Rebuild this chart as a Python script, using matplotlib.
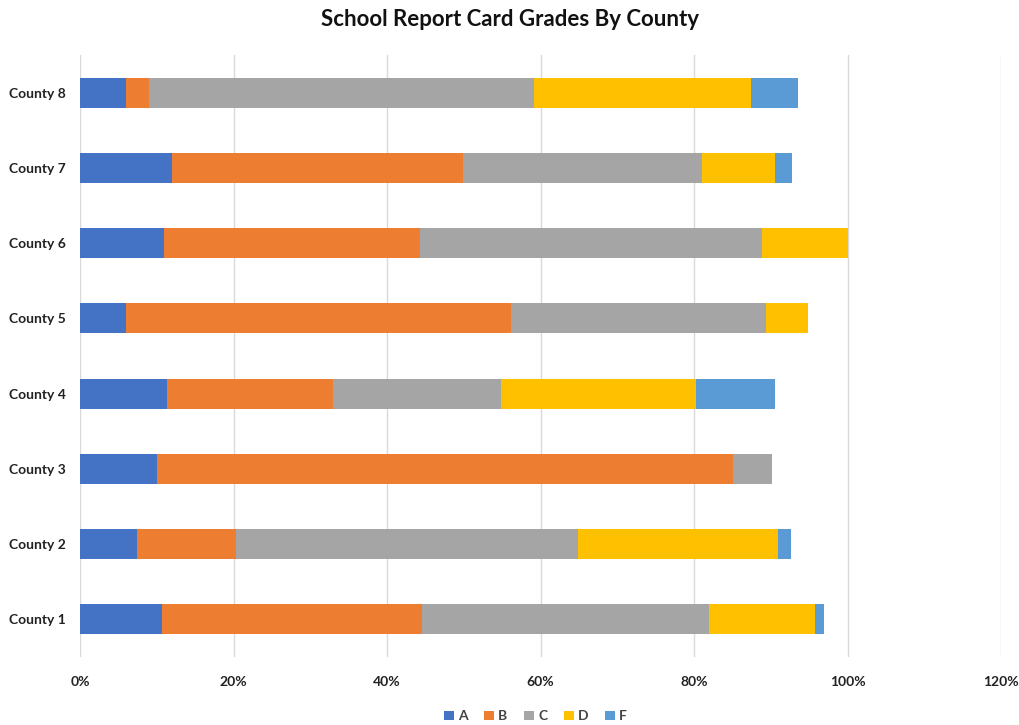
import matplotlib
matplotlib.use("Agg")
import matplotlib.pyplot as plt
import numpy as np

counties = ["County 1", "County 2", "County 3", "County 4", "County 5", "County 6", "County 7", "County 8"]
grades = ["A", "B", "C", "D", "F"]
A = [10.7, 7.4, 10.0, 11.3, 6.0, 11.0, 12.0, 6.0]
B = [33.8, 12.9, 75.1, 21.7, 50.1, 33.3, 37.9, 3.0]
C = [37.4, 44.6, 5.0, 21.9, 33.3, 44.5, 31.1, 50.2]
D = [13.9, 26.0, 0.0, 25.4, 5.5, 11.2, 9.5, 28.2]
F = [1.1, 1.8, 0.0, 10.2, 0.0, 0.0, 2.3, 6.2]
colors = ["#4472C4", "#ED7D31", "#A5A5A5", "#FFC000", "#5B9BD5"]
xticks = [0, 20, 40, 60, 80, 100, 120]

plt.rcParams['font.family'] = ['Lato', 'DejaVu Sans']

fig = plt.figure(figsize=(10.2, 7.25), dpi=100)
ax = fig.add_axes([80/1020, 1-657/725, 921/1020, (657-55)/725])

y = np.arange(len(counties))
left = np.zeros(len(counties))
for name, vals, col in zip(grades, [A, B, C, D, F], colors):
    v = np.array(vals)
    ax.barh(y, v, left=left, height=0.4, color=col, label=name, zorder=3)
    left += v

ax.set_xlim(0, 120)
ax.set_ylim(-0.5, len(counties) - 0.5)
ax.set_xticks(xticks)
ax.set_xticklabels([f"{t}%" for t in xticks], fontsize=10, fontweight='bold', color='#222222')
ax.set_yticks(y)
ax.set_yticklabels(counties, fontsize=10, fontweight='bold', color='#222222')
ax.tick_params(axis='both', length=0)
ax.tick_params(axis='x', pad=14)
ax.tick_params(axis='y', pad=10)
ax.grid(axis='x', color='#D9D9D9', linewidth=1, zorder=0)
for s in ax.spines.values():
    s.set_visible(False)

fig.suptitle("School Report Card Grades By County", x=0.5, y=0.988, fontsize=16, fontweight='bold', color='#111111')

leg = fig.legend(loc='lower center', bbox_to_anchor=(0.525, -0.008), ncol=5, frameon=False,
                 fontsize=10, handlelength=0.7, handleheight=0.7, handletextpad=0.3, columnspacing=1.2,
                 borderaxespad=0.2)
for t in leg.get_texts():
    t.set_fontweight('bold')
    t.set_color('#444444')

fig.savefig("out.png", dpi=100)
